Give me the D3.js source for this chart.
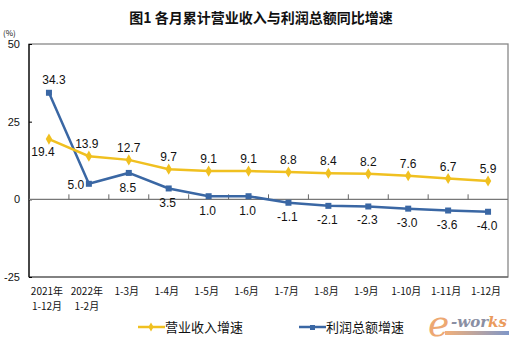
<!DOCTYPE html>
<html><head><meta charset="utf-8">
<script src="https://cdn.jsdelivr.net/npm/d3@7"></script>
<style>
body{margin:0;background:#fff;}
svg{display:block;}
</style></head>
<body>
<svg id="c" width="518" height="345"></svg>
<script>
const categories = [["2021年","1-12月"],["2022年","1-2月"],["1-3月"],["1-4月"],["1-5月"],["1-6月"],["1-7月"],["1-8月"],["1-9月"],["1-10月"],["1-11月"],["1-12月"]];
const revenue = [19.4,13.9,12.7,9.7,9.1,9.1,8.8,8.4,8.2,7.6,6.7,5.9];
const profit = [34.3,5.0,8.5,3.5,1.0,1.0,-1.1,-2.1,-2.3,-3.0,-3.6,-4.0];
const yTicks = [50,25,0,-25];
const seriesNames = ["营业收入增速","利润总额增速"];
const title = "图1  各月累计营业收入与利润总额同比增速";

const svg = d3.select("#c");
const L=29,R=508,T=44,B=277;
const yellow="#F0C020", blue="#3A67A4";
const numFont="'Liberation Sans', Arial, sans-serif";
const cjk="'Noto Sans CJK SC', sans-serif";

const x = d3.scaleBand().domain(d3.range(categories.length)).range([L,R]);
const y = d3.scaleLinear().domain([-25,50]).range([B,T]);
const hy = s => String(s).replace("\u2212","-");

// title
svg.append("text").attr("x",261).attr("y",23).attr("text-anchor","middle")
  .attr("font-family",cjk).attr("font-size",14).attr("font-weight","bold").attr("fill","#111").text(title);

// frame
svg.append("rect").attr("x",L).attr("y",T).attr("width",R-L).attr("height",B-T)
  .attr("fill","none").attr("stroke","#888").attr("stroke-width",1.3);
svg.append("line").attr("x1",L).attr("x2",R).attr("y1",B).attr("y2",B).attr("stroke","#555").attr("stroke-width",1.2);
svg.append("line").attr("x1",L).attr("x2",L).attr("y1",T).attr("y2",B).attr("stroke","#000").attr("stroke-width",1.2);

// y axis
const ya = svg.append("g").attr("transform",`translate(${L},0)`)
  .call(d3.axisLeft(y).tickValues(yTicks).tickSize(-3).tickPadding(9).tickFormat(d=>hy(d3.format("d")(d))));
ya.select(".domain").remove();
ya.selectAll("line").attr("stroke","#000");
ya.selectAll("text").attr("font-family",numFont).attr("font-size",11).attr("fill","#111");
svg.append("text").attr("x",3).attr("y",36).attr("font-family",cjk).attr("font-size",8).attr("fill","#111").text("(%)");

// zero line with ticks
svg.append("line").attr("x1",L).attr("x2",R).attr("y1",y(0)).attr("y2",y(0)).attr("stroke","#777").attr("stroke-width",1.2);
const bw = x.bandwidth();
svg.append("g").selectAll("line").data(d3.range(1,categories.length)).join("line")
  .attr("x1",i=>x(i)).attr("x2",i=>x(i)).attr("y1",y(0)).attr("y2",y(0)-5).attr("stroke","#666");

// x labels
categories.forEach((lines,i)=>{
  lines.forEach((s,j)=>{
    svg.append("text").attr("x",x(i)+bw/2-2).attr("y",295+j*15).attr("text-anchor","middle")
      .attr("font-family",cjk).attr("font-size",10).attr("fill","#111").text(s);
  });
});

const cx = i=>x(i)+bw/2;
const line = d3.line().x((d,i)=>cx(i)).y(d=>y(d));

// profit line
svg.append("path").datum(profit).attr("d",line).attr("fill","none").attr("stroke",blue).attr("stroke-width",2.5);
svg.append("g").selectAll("rect").data(profit).join("rect")
  .attr("x",(d,i)=>cx(i)-3).attr("y",d=>y(d)-3).attr("width",6).attr("height",6).attr("fill",blue);

// revenue line
svg.append("path").datum(revenue).attr("d",line).attr("fill","none").attr("stroke",yellow).attr("stroke-width",2.5);
svg.append("g").selectAll("path.m").data(revenue).join("path").attr("class","m")
  .attr("d",d3.symbol(d3.symbolDiamond,36)).attr("transform",(d,i)=>`translate(${cx(i)},${y(d)})`).attr("fill",yellow);

// labels
const lab=(xx,yy,t)=>svg.append("text").attr("x",xx).attr("y",yy).attr("text-anchor","middle")
  .attr("font-family",numFont).attr("font-size",12).attr("fill","#111").text(t);
const fmt=d=>hy(d3.format(".1f")(d));
revenue.forEach((d,i)=>{
  if(i===0) lab(cx(i)-6,y(d)+17,fmt(d));
  else lab(cx(i)+(i===1?-2:0),y(d)-8,fmt(d));
});
profit.forEach((d,i)=>{
  if(i===0) lab(cx(i)+5,y(d)-9,fmt(d));
  else if(i===1) lab(cx(i)-13,y(d)+5,fmt(d));
  else lab(cx(i)-1,y(d)+(i>=6?18:19),fmt(d));
});

// legend
const lg=[[seriesNames[0],yellow,138],[seriesNames[1],blue,299]];
lg.forEach(([name,col,lx],k)=>{
  svg.append("line").attr("x1",lx).attr("x2",lx+27).attr("y1",327).attr("y2",327).attr("stroke",col).attr("stroke-width",2.5);
  if(k===0) svg.append("path").attr("d",d3.symbol(d3.symbolDiamond,24)).attr("transform",`translate(${lx+13},327)`).attr("fill",col);
  else svg.append("rect").attr("x",lx+11).attr("y",325).attr("width",5).attr("height",5).attr("fill",col);
  svg.append("text").attr("x",lx+27).attr("y",332).attr("font-family",cjk).attr("font-size",13).attr("fill","#111").text(name);
});

// e-works logo
const lgG=svg.append("g");
const grad=svg.append("defs").append("linearGradient").attr("id","g1");
grad.append("stop").attr("offset","0").attr("stop-color","#f2b07a");
grad.append("stop").attr("offset","1").attr("stop-color","#7f97c8");
lgG.append("rect").attr("x",445).attr("y",331).attr("width",64).attr("height",4).attr("fill","url(#g1)");
lgG.append("text").attr("x",428).attr("y",336).attr("font-family","'DejaVu Serif', serif").attr("font-style","italic").attr("font-size",36).attr("fill","#eb9a5a").attr("opacity",0.85).text("e");
const t2=lgG.append("text").attr("x",451).attr("y",327).attr("font-family","'DejaVu Serif', serif").attr("font-style","italic").attr("font-weight","bold").attr("font-size",15);
t2.append("tspan").attr("fill","#8a8fa3").text("-wor");
t2.append("tspan").attr("fill","#ea9a5c").text("ks");
</script>
</body></html>
